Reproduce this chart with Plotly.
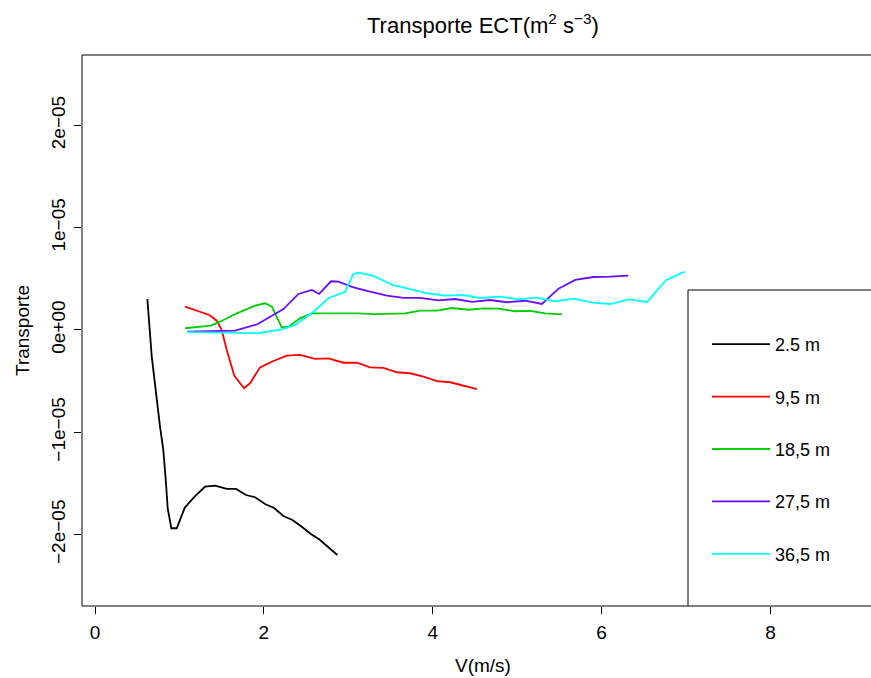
import plotly.graph_objects as go

# ---- data (V in m/s, transport in m^2 s^-3) ----
series_names = ["2.5 m", "9,5 m", "18,5 m", "27,5 m", "36,5 m"]
series_colors = ["#000000", "#FF0000", "#00CD00", "#6A0DFF", "#00FFFF"]

v_25 = [0.620, 0.672, 0.770, 0.809, 0.838, 0.861, 0.904, 0.968, 1.063, 1.185,
        1.303, 1.422, 1.560, 1.671, 1.789, 1.896, 2.014, 2.121, 2.231, 2.338,
        2.449, 2.556, 2.654, 2.752, 2.871]
t_25 = [0.303, -0.261, -0.945, -1.173, -1.466, -1.743, -1.938, -1.938, -1.737, -1.623,
        -1.532, -1.522, -1.554, -1.554, -1.613, -1.635, -1.701, -1.740, -1.818, -1.857,
        -1.923, -1.994, -2.046, -2.118, -2.199]

v_95 = [1.066, 1.354, 1.442, 1.501, 1.560, 1.650, 1.765, 1.836, 1.955, 2.113,
        2.271, 2.429, 2.607, 2.764, 2.942, 3.101, 3.258, 3.416, 3.575, 3.732,
        3.890, 4.049, 4.206, 4.364, 4.523]
t_95 = [0.228, 0.147, 0.091, 0.000, -0.196, -0.447, -0.570, -0.521, -0.365, -0.303,
        -0.251, -0.244, -0.283, -0.277, -0.320, -0.320, -0.365, -0.371, -0.413, -0.423,
        -0.456, -0.499, -0.511, -0.547, -0.577]

v_185 = [1.066, 1.371, 1.481, 1.679, 1.896, 2.014, 2.094, 2.145, 2.212, 2.290,
         2.429, 2.567, 2.745, 2.942, 3.120, 3.297, 3.495, 3.673, 3.851, 4.049,
         4.226, 4.423, 4.601, 4.779, 4.976, 5.154, 5.332, 5.530]
t_185 = [0.017, 0.042, 0.081, 0.163, 0.238, 0.261, 0.228, 0.147, 0.026, 0.032,
         0.114, 0.163, 0.163, 0.166, 0.163, 0.156, 0.163, 0.163, 0.189, 0.189,
         0.215, 0.198, 0.212, 0.208, 0.183, 0.186, 0.163, 0.153]

v_275 = [1.094, 1.659, 1.923, 2.073, 2.231, 2.409, 2.568, 2.654, 2.796, 2.883,
         3.060, 3.258, 3.456, 3.653, 3.851, 4.067, 4.265, 4.463, 4.680, 4.878,
         5.095, 5.293, 5.489, 5.687, 5.904, 6.102, 6.315]
t_275 = [-0.017, -0.007, 0.056, 0.130, 0.205, 0.352, 0.391, 0.352, 0.476, 0.472,
         0.417, 0.374, 0.335, 0.313, 0.313, 0.290, 0.303, 0.274, 0.293, 0.271,
         0.286, 0.254, 0.404, 0.489, 0.518, 0.521, 0.531]

v_365 = [1.094, 1.935, 2.212, 2.370, 2.587, 2.764, 2.962, 3.060, 3.120, 3.297,
         3.525, 3.732, 3.940, 4.147, 4.364, 4.562, 4.799, 5.015, 5.233, 5.450,
         5.667, 5.897, 6.102, 6.319, 6.537, 6.762, 6.982]
t_365 = [-0.020, -0.032, 0.007, 0.049, 0.179, 0.310, 0.374, 0.547, 0.560, 0.528,
         0.440, 0.398, 0.359, 0.335, 0.342, 0.313, 0.326, 0.300, 0.316, 0.281,
         0.306, 0.267, 0.254, 0.300, 0.274, 0.486, 0.570]

scale = 1e-5  # values above are in units of 1e-05

x_ticks = [0, 2, 4, 6, 8]
y_ticks = [2e-05, 1e-05, 0.0, -1e-05, -2e-05]
y_ticktext = ["2e\u221205", "1e\u221205", "0e+00", "\u22121e\u221205", "\u22122e\u221205"]

title_text = "Transporte ECT(m<sup>2</sup> s<sup>\u22123</sup>)"
x_title = "V(m/s)"
y_title = "Transporte"

FONT = "Liberation Sans, Arial, Helvetica, sans-serif"

all_v = [v_25, v_95, v_185, v_275, v_365]
all_t = [t_25, t_95, t_185, t_275, t_365]

fig = go.Figure()
for name, col, vx, ty in zip(series_names, series_colors, all_v, all_t):
    fig.add_trace(go.Scatter(
        x=vx, y=[t * scale for t in ty], mode="lines", name=name,
        legendgroup=name,
        line=dict(color=col, width=1.8),
    ))

W, H = 871, 678
L, R, T, B = 82, 0, 55, 72
pw = W - L - R
ph = H - T - B


def px_x(p):
    return (p - L) / pw


def px_y(p):
    return (H - B - p) / ph


shapes = [
    # plot box (right side runs off the image)
    dict(type="path", xref="paper", yref="paper",
         path="M 1.02 1 L 0 1 L 0 0 L 1.02 0",
         line=dict(color="black", width=1)),
    # legend box
    dict(type="path", xref="paper", yref="paper",
         path=f"M {px_x(688)} 0 L {px_x(688)} {px_y(290)} L 1.02 {px_y(290)}",
         line=dict(color="black", width=1)),
]

annotations = [
    dict(text=title_text, x=px_x(483), y=px_y(24), xref="paper", yref="paper",
         showarrow=False, font=dict(family=FONT, size=22, color="black"),
         xanchor="center", yanchor="middle"),
    dict(text=x_title, x=px_x(483), y=px_y(665), xref="paper", yref="paper",
         showarrow=False, font=dict(family=FONT, size=19, color="black"),
         xanchor="center", yanchor="middle"),
    dict(text=y_title, x=px_x(22), y=px_y(331), xref="paper", yref="paper",
         showarrow=False, textangle=-90, font=dict(family=FONT, size=19, color="black"),
         xanchor="center", yanchor="middle"),
]

fig.update_layout(
    width=W, height=H,
    margin=dict(l=L, r=R, t=T, b=B, pad=0),
    paper_bgcolor="white", plot_bgcolor="white",
    font=dict(family=FONT, size=19, color="black"),
    shapes=shapes,
    annotations=annotations,
    showlegend=True,
    legend=dict(
        x=px_x(707), y=px_y(326), xanchor="left", yanchor="top",
        bgcolor="rgba(0,0,0,0)", borderwidth=0,
        font=dict(family=FONT, size=18, color="black"),
        tracegroupgap=26, itemwidth=58,
    ),
    xaxis=dict(
        range=[-0.154, 9.19], tickmode="array", tickvals=x_ticks,
        showgrid=False, zeroline=False, showline=False,
        ticks="outside", ticklen=7, tickcolor="black", tickwidth=1,
        tickfont=dict(family=FONT, size=19), ticklabelstandoff=2,
    ),
    yaxis=dict(
        range=[-2.698e-5, 2.688e-5], tickmode="array", tickvals=y_ticks,
        ticktext=y_ticktext, tickangle=-90,
        showgrid=False, zeroline=False, showline=False,
        ticks="outside", ticklen=7, tickcolor="black", tickwidth=1,
        tickfont=dict(family=FONT, size=19), ticklabelstandoff=1,
    ),
)

fig.write_html("out.html")
